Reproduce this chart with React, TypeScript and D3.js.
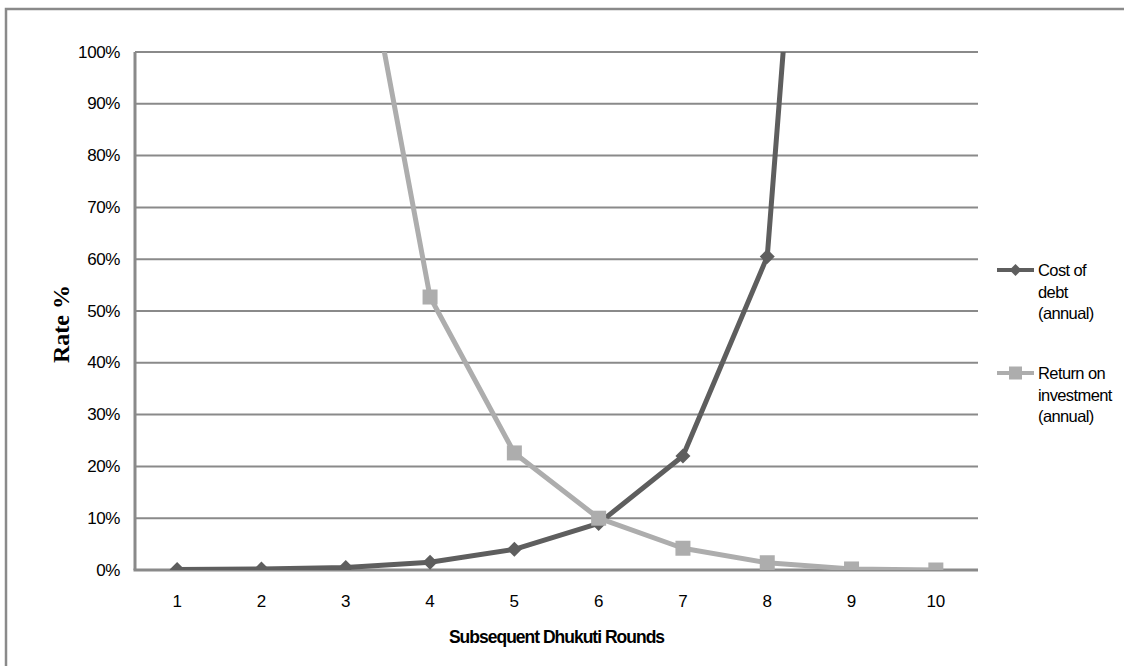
import React from "react";
import * as d3 from "d3";

const categories = ["1", "2", "3", "4", "5", "6", "7", "8", "9", "10"];
const costOfDebt = [0.1, 0.2, 0.5, 1.5, 4.0, 9.0, 22.0, 60.5, 270, 1500];
const returnOnInvestment = [1200, 400, 140, 52.7, 22.6, 10.0, 4.2, 1.4, 0.2, 0.0];
const yTicks = [0, 10, 20, 30, 40, 50, 60, 70, 80, 90, 100];
const legendLabels = [
  ["Cost of", "debt", "(annual)"],
  ["Return on", "investment", "(annual)"],
];

const W = 1124;
const H = 666;
const plot = { left: 135, right: 978, top: 52, bottom: 570 };
const DARK = "#5e5e5e";
const LIGHT = "#adadad";
const GRID = "#8a8a8a";
const FONT = "'Liberation Sans', Arial, sans-serif";

export default function App() {
  const x = d3
    .scaleBand<string>()
    .domain(categories)
    .range([plot.left, plot.right])
    .paddingInner(0)
    .paddingOuter(0);
  const y = d3.scaleLinear().domain([0, 100]).range([plot.bottom, plot.top]);
  const cx = (c: string) => (x(c) as number) + x.bandwidth() / 2;

  const line = d3
    .line<number>()
    .x((_, i) => cx(categories[i]))
    .y((d) => y(d));

  const diamond = (px: number, py: number, r: number) =>
    `M${px},${py - r}L${px + r},${py}L${px},${py + r}L${px - r},${py}Z`;

  const legendX = 997;
  const legendY = [270, 373];

  return (
    <svg
      width={W}
      height={H}
      style={{ position: "absolute", left: 0, top: 0, background: "#fff" }}
    >
      <rect x={0} y={0} width={W} height={H} fill="#fff" />
      <rect
        x={6}
        y={9}
        width={W + 20}
        height={H + 20}
        fill="none"
        stroke={GRID}
        strokeWidth={2.5}
      />
      <defs>
        <clipPath id="plotClip">
          <rect
            x={plot.left}
            y={plot.top}
            width={plot.right - plot.left}
            height={plot.bottom - plot.top}
          />
        </clipPath>
      </defs>
      {yTicks.map((t) => (
        <g key={t}>
          {t > 0 && (
            <line
              x1={plot.left}
              x2={plot.right}
              y1={y(t)}
              y2={y(t)}
              stroke={GRID}
              strokeWidth={2}
            />
          )}
          <text
            x={120}
            y={y(t)}
            textAnchor="end"
            dominantBaseline="central"
            fontFamily={FONT}
            fontSize={17}
            letterSpacing={-0.4}
            fill="#000"
          >
            {t}%
          </text>
        </g>
      ))}
      <line
        x1={plot.left}
        x2={plot.left}
        y1={plot.top}
        y2={plot.bottom}
        stroke={GRID}
        strokeWidth={3}
      />
      <line
        x1={plot.left - 1.5}
        x2={plot.right}
        y1={plot.bottom}
        y2={plot.bottom}
        stroke={GRID}
        strokeWidth={3}
      />
      {categories.map((c) => (
        <text
          key={c}
          x={cx(c)}
          y={601}
          textAnchor="middle"
          dominantBaseline="central"
          fontFamily={FONT}
          fontSize={17}
          fill="#000"
        >
          {c}
        </text>
      ))}
      <g clipPath="url(#plotClip)">
        <path
          d={line(costOfDebt) || ""}
          fill="none"
          stroke={DARK}
          strokeWidth={5}
          strokeLinejoin="round"
        />
        {costOfDebt.map((v, i) => (
          <path key={i} d={diamond(cx(categories[i]), y(v), 7.5)} fill={DARK} />
        ))}
        <path
          d={line(returnOnInvestment) || ""}
          fill="none"
          stroke={LIGHT}
          strokeWidth={5}
          strokeLinejoin="round"
        />
        {returnOnInvestment.map((v, i) => (
          <rect
            key={i}
            x={cx(categories[i]) - 7.5}
            y={y(v) - 7.5}
            width={15}
            height={15}
            fill={LIGHT}
          />
        ))}
      </g>
      <text
        transform={`translate(61,324) rotate(-90)`}
        textAnchor="middle"
        dominantBaseline="central"
        fontFamily="'Liberation Serif', 'Times New Roman', serif"
        fontWeight="bold"
        fontSize={24}
        fill="#000"
      >
        Rate %
      </text>
      <text
        x={(plot.left + plot.right) / 2}
        y={637}
        textAnchor="middle"
        dominantBaseline="central"
        fontFamily={FONT}
        fontWeight="bold"
        fontSize={17.5}
        letterSpacing={-1}
        fill="#000"
      >
        Subsequent Dhukuti Rounds
      </text>
      {legendLabels.map((lines, k) => {
        const ly = legendY[k];
        const color = k === 0 ? DARK : LIGHT;
        return (
          <g key={k}>
            <line
              x1={legendX}
              x2={legendX + 37}
              y1={ly}
              y2={ly}
              stroke={color}
              strokeWidth={4}
            />
            {k === 0 ? (
              <path d={diamond(legendX + 18.5, ly, 6)} fill={color} />
            ) : (
              <rect x={legendX + 12} y={ly - 6.5} width={13} height={13} fill={color} />
            )}
            {lines.map((s, j) => (
              <text
                key={j}
                x={1038}
                y={ly + j * 21.5}
                dominantBaseline="central"
                fontFamily={FONT}
                fontSize={16.5}
                letterSpacing={-0.6}
                fill="#000"
              >
                {s}
              </text>
            ))}
          </g>
        );
      })}
    </svg>
  );
}
